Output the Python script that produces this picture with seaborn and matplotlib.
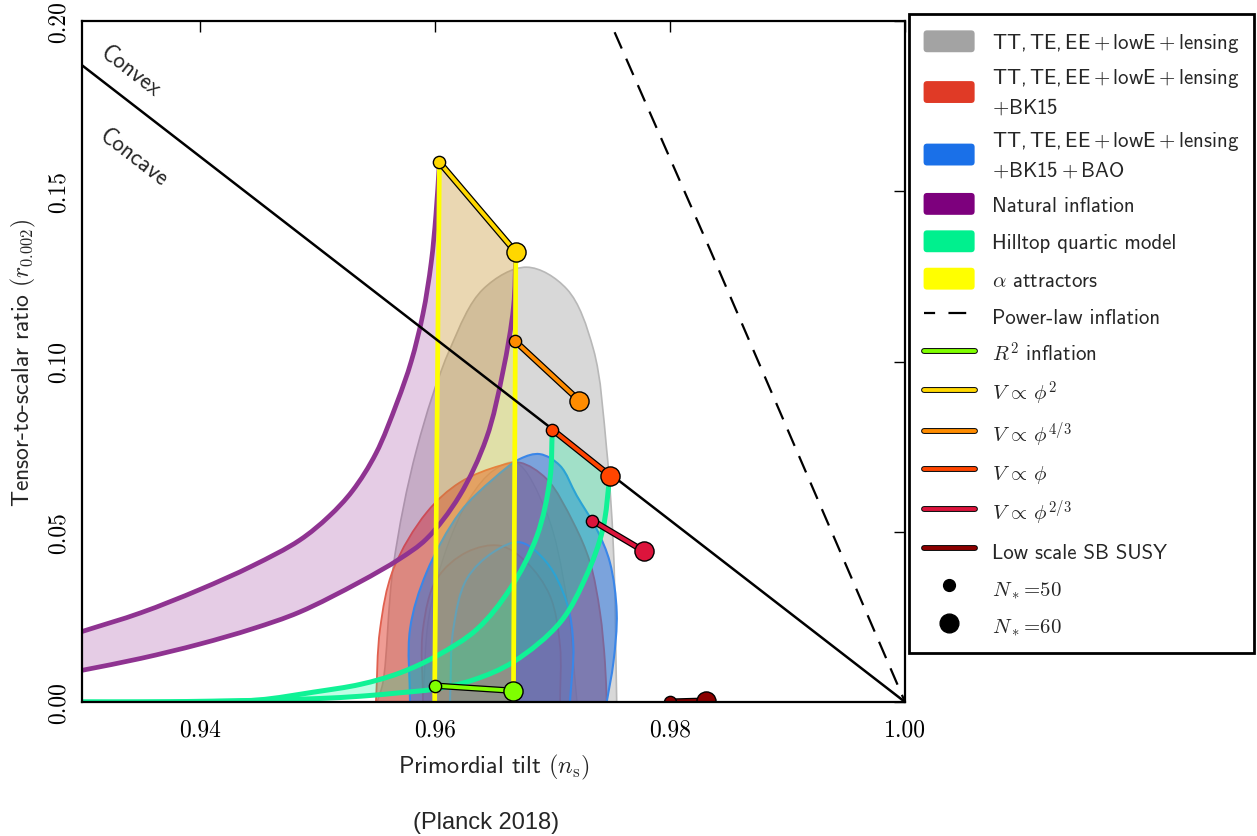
import numpy as np
import matplotlib
matplotlib.use("Agg")
import matplotlib.pyplot as plt
import seaborn as sns
from matplotlib.path import Path
from matplotlib.patches import PathPatch, Patch, FancyBboxPatch
from matplotlib.lines import Line2D
from matplotlib.legend_handler import HandlerPatch
import matplotlib.patheffects as pe

# ---------------- data ----------------
# Planck constraint contours (outline from left base to right base, r>=0)
gray95_ns = [0.9551, 0.9556, 0.95648, 0.95847, 0.9613, 0.96413, 0.96782, 0.97123, 0.97349, 0.97462, 0.9752, 0.97548]
gray95_r = [0.0, 0.0058, 0.0400, 0.0743, 0.1037, 0.1213, 0.1277, 0.1213, 0.1037, 0.0743, 0.0450, 0.0]
gray68_ns = [0.9590, 0.9595, 0.9610, 0.9630, 0.9650, 0.9669, 0.9695, 0.9712, 0.9721]
gray68_r = [0.0, 0.0250, 0.0450, 0.0600, 0.0680, 0.0703, 0.0557, 0.0310, 0.0]
red95_ns = [0.9550, 0.95535, 0.95648, 0.95932, 0.96215, 0.96556, 0.96725, 0.96952, 0.97179, 0.97321, 0.97406, 0.97448, 0.97463]
red95_r = [0.0, 0.0214, 0.0390, 0.0557, 0.0645, 0.0694, 0.0703, 0.0655, 0.0527, 0.0410, 0.0263, 0.0117, 0.0]
red68_ns = [0.9590, 0.9590, 0.96017, 0.96272, 0.96556, 0.96782, 0.9698, 0.97066, 0.97066]
red68_r = [0.0, 0.0214, 0.0361, 0.0440, 0.0459, 0.0410, 0.0312, 0.0165, 0.0]
blue95_ns = [0.9579, 0.9579, 0.9593, 0.96215, 0.96498, 0.96725, 0.96895, 0.97066, 0.97208, 0.97377, 0.9749, 0.97548, 0.9752, 0.97463]
blue95_r = [0.0, 0.0214, 0.0380, 0.0557, 0.0655, 0.0714, 0.0728, 0.0694, 0.0606, 0.0508, 0.0410, 0.0263, 0.0117, 0.0]
blue68_ns = [0.9613, 0.96158, 0.96272, 0.96498, 0.96725, 0.96952, 0.97123, 0.97179, 0.9715]
blue68_r = [0.0, 0.0214, 0.0361, 0.0440, 0.0469, 0.0410, 0.0292, 0.0165, 0.0]

# Natural inflation band (N=50 and N=60 edges)
nat50_ns = [0.9300, 0.9350, 0.9400, 0.9445, 0.9485, 0.9510, 0.9530, 0.9550, 0.9568, 0.9580, 0.9590, 0.9597, 0.9601, 0.9604]
nat50_r = [0.0207, 0.0262, 0.0330, 0.0400, 0.0475, 0.0545, 0.0620, 0.0730, 0.0880, 0.1000, 0.1140, 0.1290, 0.1430, 0.1585]
nat60_ns = [0.9300, 0.9350, 0.9400, 0.9445, 0.9485, 0.9536, 0.9570, 0.9593, 0.9621, 0.9644, 0.9658, 0.9667, 0.9669]
nat60_r = [0.0093, 0.0128, 0.0170, 0.0215, 0.0264, 0.0352, 0.0420, 0.0479, 0.0605, 0.0775, 0.0970, 0.1160, 0.1321]

# Hilltop quartic band
hill50_ns = [0.9300, 0.9350, 0.9400, 0.9450, 0.9497, 0.9537, 0.9570, 0.9602, 0.9636, 0.9664, 0.9687, 0.9698, 0.9700]
hill50_r = [0.0000, 0.0000, 0.0001, 0.0006, 0.0029, 0.0052, 0.0085, 0.0136, 0.0214, 0.0332, 0.0488, 0.0655, 0.0799]
hill60_ns = [0.9300, 0.9350, 0.9400, 0.9450, 0.9500, 0.9537, 0.9570, 0.9600, 0.9633, 0.9667, 0.9707, 0.9729, 0.9743, 0.9749]
hill60_r = [0.0000, 0.0000, 0.0002, 0.0005, 0.0010, 0.0017, 0.0027, 0.0038, 0.0065, 0.0118, 0.0235, 0.0371, 0.0508, 0.0665]

# alpha attractors (edges for N=50 and N=60)
alpha50_ns = [0.9600, 0.9600, 0.9604]
alpha50_r = [0.0, 0.0048, 0.1585]
alpha60_ns = [0.9667, 0.9667, 0.9669]
alpha60_r = [0.0, 0.0033, 0.1321]

# convex/concave divider and power-law inflation
divider_ns = [0.93, 1.00]
divider_r = [0.1870, 0.0]
powerlaw_ns = [0.9753, 0.9834, 1.0000]
powerlaw_r = [0.1967, 0.1330, 0.0000]

# model predictions: (N=50, N=60)
model_names = ["$R^2$ inflation", "$V\\,\\propto\\,\\phi^2$", "$V\\,\\propto\\,\\phi^{4/3}$",
               "$V\\,\\propto\\,\\phi$", "$V\\,\\propto\\,\\phi^{2/3}$", "Low scale SB SUSY"]
model_colors = ["#7fff00", "#ffd700", "#ff8c00", "#ff4500", "#dc143c", "#8b0000"]
model_ns50 = [0.9600, 0.9604, 0.9668, 0.9700, 0.9734, 0.9800]
model_r50 = [0.0048, 0.1585, 0.1061, 0.0800, 0.0533, 0.0001]
model_ns60 = [0.9667, 0.9669, 0.9723, 0.9749, 0.9778, 0.9831]
model_r60 = [0.0033, 0.1321, 0.0885, 0.0665, 0.0443, 0.0004]

constraint_labels = ["TT,$\\,$TE,$\\,$EE${}+{}$lowE${}+{}$lensing",
                     "TT,$\\,$TE,$\\,$EE${}+{}$lowE${}+{}$lensing\n$+$BK15",
                     "TT,$\\,$TE,$\\,$EE${}+{}$lowE${}+{}$lensing\n$+$BK15${}+{}$BAO"]
xtick_vals = [0.94, 0.96, 0.98, 1.00]
ytick_vals = [0.00, 0.05, 0.10, 0.15, 0.20]

# ---------------- style ----------------
sns.set_theme(style="white")
plt.rcParams['font.family'] = ['cmss10', 'DejaVu Sans']
plt.rcParams['mathtext.fontset'] = 'cm'
plt.rcParams['axes.unicode_minus'] = False
plt.rcParams['axes.formatter.use_mathtext'] = True

W, H = 1257, 837
fig = plt.figure(figsize=(W / 100, H / 100), dpi=100)
ax = fig.add_axes([82 / W, 1 - 703 / H, (905 - 82) / W, (703 - 22) / H])
SX, SY = 823 / 0.07, 681 / 0.20   # data -> approx pixel scale for smoothing metric


def cr_segments(P):
    """centripetal Catmull-Rom through the given points as cubic Bezier segments"""
    P = np.asarray(P, float)
    S = np.array([SX, SY])
    Q = P * S
    n = len(Q)
    verts, codes = [], []
    for i in range(n - 1):
        p1, p2 = Q[i], Q[i + 1]
        p0 = Q[i - 1] if i > 0 else None
        p3 = Q[i + 2] if i + 2 < n else None
        d1 = np.linalg.norm(p2 - p1) ** 0.5
        if p0 is None or d1 == 0:
            c1 = p1 + (p2 - p1) / 3.0
        else:
            d0 = np.linalg.norm(p1 - p0) ** 0.5
            c1 = (d0 ** 2 * p2 - d1 ** 2 * p0 + (2 * d0 ** 2 + 3 * d0 * d1 + d1 ** 2) * p1) / (3 * d0 * (d0 + d1))
        if p3 is None or d1 == 0:
            c2 = p2 - (p2 - p1) / 3.0
        else:
            d2 = np.linalg.norm(p3 - p2) ** 0.5
            c2 = (d2 ** 2 * p1 - d1 ** 2 * p3 + (2 * d2 ** 2 + 3 * d2 * d1 + d1 ** 2) * p2) / (3 * d2 * (d2 + d1))
        verts += [c1 / S, c2 / S, p2 / S]
        codes += [Path.CURVE4] * 3
    return verts, codes


def curve_path(xs, ys, close=False):
    P = np.column_stack([xs, ys])
    v, c = cr_segments(P)
    verts = [P[0]] + v
    codes = [Path.MOVETO] + c
    if close:
        verts.append(P[0])
        codes.append(Path.CLOSEPOLY)
    return Path(verts, codes)


def band_path(x1, y1, x2, y2):
    P1 = np.column_stack([x1, y1])
    P2 = np.column_stack([x2, y2])[::-1]
    v1, c1 = cr_segments(P1)
    v2, c2 = cr_segments(P2)
    verts = [P1[0]] + v1 + [P2[0]] + v2 + [P1[0]]
    codes = [Path.MOVETO] + c1 + [Path.LINETO] + c2 + [Path.CLOSEPOLY]
    return Path(verts, codes)


def contour(xs, ys, fc, a, ec, lw, z):
    ax.add_patch(PathPatch(curve_path(xs, ys, True), fc=fc, alpha=a, ec="none", zorder=z))
    ax.add_patch(PathPatch(curve_path(xs, ys, True), fc="none", ec=ec, lw=lw, zorder=z))


contour(gray95_ns, gray95_r, "#9a9a9a", 0.38, "#b8b8b8", 1.2, 1.00)
contour(gray68_ns, gray68_r, "#9a9a9a", 0.15, "#b8b8b8", 1.0, 1.01)
contour(red95_ns, red95_r, "#e03a2a", 0.50, "#e0604f", 1.3, 1.10)
contour(red68_ns, red68_r, "#e03a2a", 0.12, "#e0604f", 1.3, 1.11)
contour(blue95_ns, blue95_r, "#1f6fe0", 0.50, "#3a86e8", 1.5, 1.20)
contour(blue68_ns, blue68_r, "#1f6fe0", 0.12, "#3a86e8", 1.5, 1.21)

# model bands
ax.add_patch(PathPatch(band_path(nat50_ns, nat50_r, nat60_ns, nat60_r), fc="#800080", alpha=0.2, ec="none", zorder=1.3))
alpha_poly_ns = alpha50_ns + alpha60_ns[::-1]
alpha_poly_r = alpha50_r + alpha60_r[::-1]
ax.fill(alpha_poly_ns, alpha_poly_r, color="#ffff00", alpha=0.22, lw=0, zorder=1.4)
ax.add_patch(PathPatch(band_path(hill50_ns, hill50_r, hill60_ns, hill60_r), fc="#00fa9a", alpha=0.25, ec="none", zorder=1.5))

for xs, ys in [(nat50_ns, nat50_r), (nat60_ns, nat60_r)]:
    ax.add_patch(PathPatch(curve_path(xs, ys), fc="none", ec="#8f3391", lw=3.4, zorder=2.0))
for xs, ys in [(hill50_ns, hill50_r), (hill60_ns, hill60_r)]:
    ax.add_patch(PathPatch(curve_path(xs, ys), fc="none", ec="#10f296", lw=3.6, zorder=2.1))
for xs, ys in [(alpha50_ns, alpha50_r), (alpha60_ns, alpha60_r)]:
    sns.lineplot(x=xs, y=ys, color="#ffff00", lw=3.4, ax=ax, zorder=2.2, sort=False, estimator=None)

sns.lineplot(x=divider_ns, y=divider_r, color="black", lw=1.8, ax=ax, zorder=2.3)
sns.lineplot(x=powerlaw_ns, y=powerlaw_r, color="black", lw=1.6, ax=ax, zorder=2.3,
             linestyle=(0, (8, 5)))

stroke = [pe.Stroke(linewidth=4.6, foreground="black"), pe.Normal()]
for i in range(len(model_names)):
    sns.lineplot(x=[model_ns50[i], model_ns60[i]], y=[model_r50[i], model_r60[i]],
                 color=model_colors[i], lw=2.8, ax=ax, zorder=3, path_effects=stroke)
    sns.scatterplot(x=[model_ns50[i]], y=[model_r50[i]], color=model_colors[i], s=78,
                    edgecolor="black", linewidth=1.0, ax=ax, zorder=4)
    sns.scatterplot(x=[model_ns60[i]], y=[model_r60[i]], color=model_colors[i], s=190,
                    edgecolor="black", linewidth=1.0, ax=ax, zorder=4)

# convex / concave labels
ax.text(0.93408, 0.1853, "Convex", rotation=-37.8, ha="center", va="center", fontsize=16.5, zorder=5)
ax.text(0.93434, 0.1600, "Concave", rotation=-37.8, ha="center", va="center", fontsize=16.5, zorder=5)

# axes
ax.set_xlim(0.93, 1.00)
ax.set_ylim(0.0, 0.20)
ax.set_xticks(xtick_vals)
ax.set_xticklabels([f"{v:.2f}" for v in xtick_vals], fontfamily="cmr10", fontsize=17)
ax.set_yticks(ytick_vals)
ax.set_yticklabels([f"{v:.2f}" for v in ytick_vals], fontfamily="cmr10", fontsize=17,
                   rotation=90, va="center")
ax.tick_params(axis="both", direction="in", length=8, width=1.0, top=True, right=True,
               colors="black", pad=9)
ax.tick_params(axis="x", pad=12)
for sp in ax.spines.values():
    sp.set_linewidth(1.6)
    sp.set_color("black")
    sp.set_zorder(6)
ax.set_xlabel("Primordial tilt $(n_\\mathrm{s})$", fontsize=17.5, labelpad=8)
ax.set_ylabel("Tensor-to-scalar ratio $(r_{0.002})$", fontsize=17, labelpad=7)


# legend
def rounded_patch(legend, orig_handle, xdescent, ydescent, width, height, fontsize):
    h = 1.05 * fontsize
    return FancyBboxPatch((-xdescent, -ydescent + (height - h) / 2.0), width, h,
                          boxstyle="round,pad=0,rounding_size=2.5",
                          fc=orig_handle.get_facecolor(), ec="none")


handles = [Patch(fc="#a3a3a3", ec="none"), Patch(fc="#e03a26", ec="none"),
           Patch(fc="#1a70e8", ec="none"), Patch(fc="#7d007d", ec="none"),
           Patch(fc="#00f08e", ec="none"), Patch(fc="#ffff00", ec="none"),
           Line2D([], [], color="black", lw=1.6, linestyle=(3, (8, 6)))]
labels = constraint_labels + ["Natural inflation", "Hilltop quartic model",
                              "$\\alpha$ attractors", "Power-law inflation"]
for i in range(len(model_names)):
    handles.append(Line2D([], [], color=model_colors[i], lw=2.8,
                          path_effects=[pe.Stroke(linewidth=4.2, foreground="black"), pe.Normal()]))
    labels.append(model_names[i])
handles.append(Line2D([], [], ls="none", marker="o", color="black", markersize=8.5))
labels.append("$N_*\\!=\\!50$")
handles.append(Line2D([], [], ls="none", marker="o", color="black", markersize=13.5))
labels.append("$N_*\\!=\\!60$")

leg = fig.legend(handles, labels, loc="upper left", bbox_to_anchor=(909 / W, 1 - 15 / H),
                 frameon=True, fancybox=False, edgecolor="black", framealpha=1.0,
                 fontsize=15, handlelength=2.45, handleheight=1.5, handletextpad=0.85,
                 labelspacing=0.575, borderpad=0.7, borderaxespad=0.0,
                 handler_map={Patch: HandlerPatch(patch_func=rounded_patch)})
leg.get_frame().set_linewidth(2.0)
for t in leg.get_texts():
    if "\n" in t.get_text():
        t.set_linespacing(1.4)

fig.text(486 / W, 1 - 823 / H, "(Planck 2018)", family="Liberation Sans", fontsize=17,
         ha="center", va="center")

fig.savefig("out.png", dpi=100)
